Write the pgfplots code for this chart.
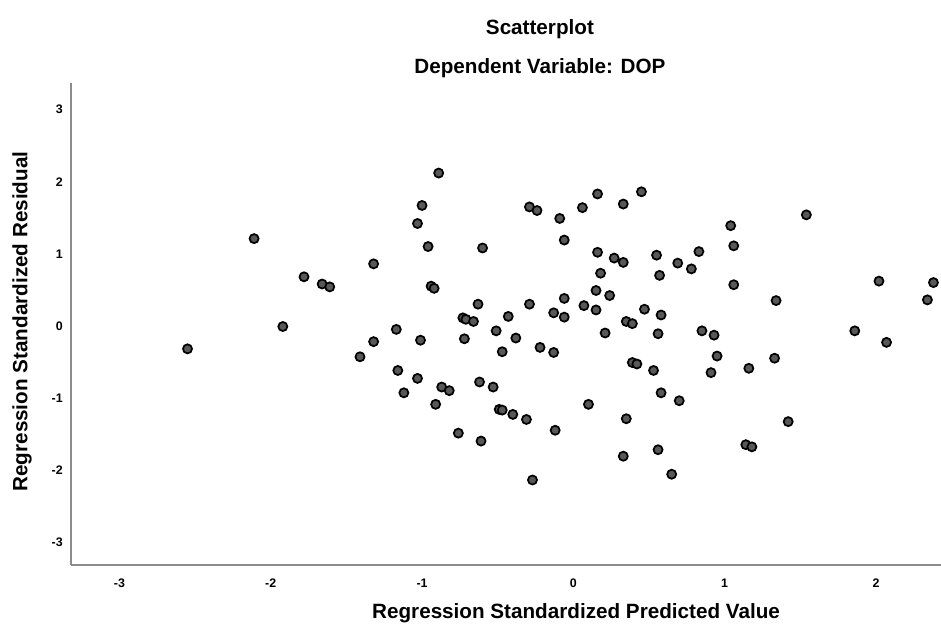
\documentclass[border=0pt]{standalone}
\usepackage{fontspec}
\setmainfont{Liberation Sans}
\usepackage{pgfplots}
\pgfplotsset{compat=1.18}
\definecolor{ptfill}{RGB}{88,88,88}
\definecolor{axgray}{RGB}{140,140,140}
\begin{document}
\begin{tikzpicture}
\begin{axis}[
  at={(53.25pt,47.25pt)}, anchor=south west,
  scale only axis, width=652.5pt, height=361.5pt,
  xmin=-3.32, xmax=2.43, ymin=-3.32, ymax=3.37,
  axis x line=bottom, axis y line=left,
  axis line style={-, axgray, line width=1.6pt},
  major tick length=0pt,
  xtick={-3,-2,-1,0,1,2}, xticklabels={-3,-2,-1,0,1,2},
  ytick={-3,-2,-1,0,1,2,3}, yticklabels={-3,-2,-1,0,1,2,3},
  xticklabel style={anchor=center, yshift=-13.5pt, font=\fontsize{9.3}{11}\selectfont\bfseries},
  yticklabel style={anchor=east, inner sep=0pt, xshift=-6pt, font=\fontsize{9.3}{11}\selectfont\bfseries},
  clip=false,
]
\addplot[only marks, mark=*, mark size=3.4pt, mark options={draw=black, fill=ptfill, line width=1.3pt}] coordinates {
(-2.55,-0.32) (-2.11,1.21) (-1.92,-0.01) (-1.78,0.68) (-1.66,0.58) (-1.61,0.54)
(-1.32,0.86) (-1.41,-0.43) (-1.32,-0.22) (-0.89,2.12) (-1.00,1.67) (-1.03,1.42)
(-0.96,1.10) (-0.60,1.08) (-0.94,0.55) (-0.92,0.52) (-0.29,1.65) (-0.24,1.60)
(-0.09,1.49) (-0.06,1.19) (0.06,1.64) (0.16,1.83) (0.33,1.69) (0.45,1.86)
(0.16,1.02) (0.27,0.94) (0.33,0.88) (0.55,0.98) (0.69,0.87) (0.18,0.73)
(0.57,0.70) (0.15,0.49) (0.24,0.42) (-0.63,0.30) (-0.29,0.30) (-0.06,0.38)
(0.07,0.28) (0.15,0.22) (0.47,0.23) (0.58,0.15) (-0.13,0.18) (-0.06,0.12)
(-0.73,0.11) (-0.71,0.09) (-0.66,0.06) (-0.43,0.13) (0.35,0.06) (0.39,0.03)
(1.04,1.39) (1.54,1.54) (1.06,1.11) (0.83,1.03) (0.78,0.79) (1.06,0.57)
(1.34,0.35) (2.02,0.62) (2.38,0.60) (2.34,0.36) (-1.17,-0.05) (-1.01,-0.20)
(-0.72,-0.18) (-0.51,-0.07) (-0.38,-0.17) (-0.47,-0.36) (-0.22,-0.30) (-0.13,-0.37)
(0.21,-0.10) (0.56,-0.11) (-1.16,-0.62) (-1.03,-0.73) (-1.12,-0.93) (-0.87,-0.85)
(-0.82,-0.90) (-0.91,-1.09) (-0.62,-0.78) (-0.53,-0.85) (-0.49,-1.16) (-0.47,-1.17)
(-0.40,-1.23) (-0.31,-1.30) (-0.76,-1.49) (-0.61,-1.60) (-0.27,-2.14) (-0.12,-1.45)
(0.10,-1.09) (0.39,-0.51) (0.42,-0.53) (0.53,-0.62) (0.58,-0.93) (0.70,-1.04)
(0.35,-1.29) (0.33,-1.81) (0.56,-1.72) (0.65,-2.06) (0.85,-0.07) (0.93,-0.13)
(0.95,-0.42) (0.91,-0.65) (1.16,-0.59) (1.33,-0.45) (1.86,-0.07) (2.07,-0.23)
(1.42,-1.33) (1.14,-1.65) (1.18,-1.68)
};
\node[font=\fontsize{15.5}{18}\selectfont\bfseries] at (rel axis cs:0.539,1.111) {Scatterplot};
\node[font=\fontsize{15.5}{18}\selectfont\bfseries] at (rel axis cs:0.539,1.030) {Dependent Variable: DOP};
\node[font=\fontsize{15.5}{18}\selectfont\bfseries] at (rel axis cs:0.5805,-0.0996) {Regression Standardized Predicted Value};
\node[font=\fontsize{15.5}{18}\selectfont\bfseries, rotate=90] at (rel axis cs:-0.0563,0.505) {Regression Standardized Residual};
\end{axis}
\pgfresetboundingbox
\path[use as bounding box] (0,0) rectangle (705.75pt,471pt);
\end{tikzpicture}
\end{document}
